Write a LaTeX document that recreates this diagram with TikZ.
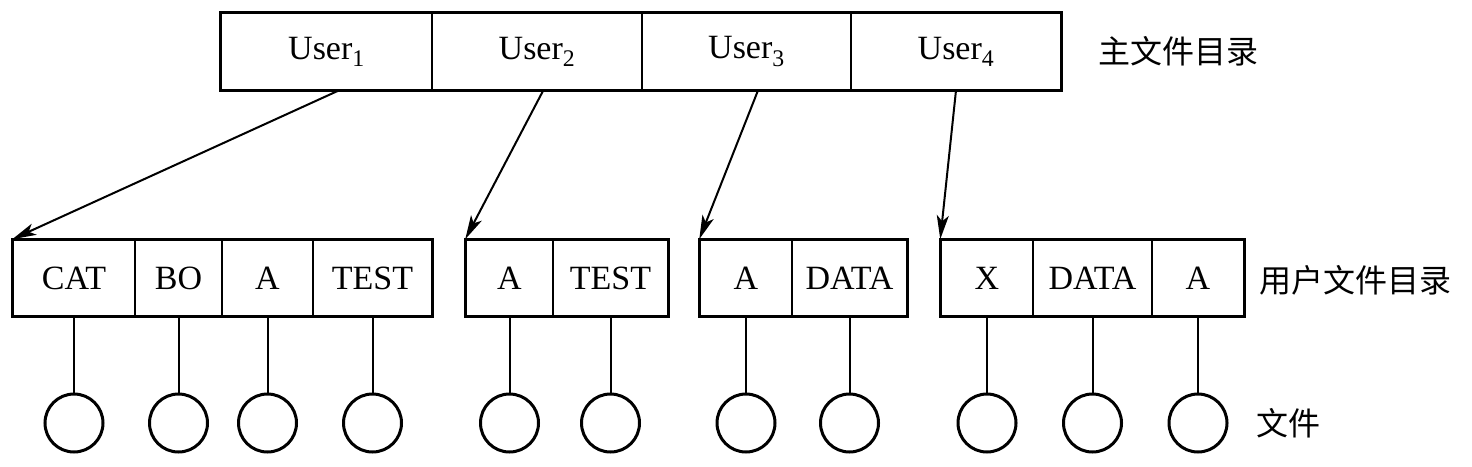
\documentclass[tikz,border=0pt]{standalone}
\usepackage{fontspec}
\setmainfont{Liberation Serif}
\newfontfamily\cjk{Noto Sans CJK SC}
\usetikzlibrary{arrows.meta,calc}
\begin{document}
\begin{tikzpicture}[x=1pt,y=-1pt,
  cell/.style={draw,line width=1.5pt,inner sep=0pt,minimum height=76pt,font=\fontsize{34}{40}\selectfont},
  outer/.style={line width=3pt},
  file/.style={draw,circle,line width=3pt,minimum size=58pt,inner sep=0pt},
  link/.style={line width=2pt},
  ptr/.style={line width=2pt,-{Stealth[length=24pt,width=12pt,inset=6pt]}},
  lbl/.style={font=\cjk\fontsize{32}{38}\selectfont,inner sep=0pt}]
\useasboundingbox (0,0) rectangle (1472,466);
% main directory
\node[cell,minimum width=211pt] (m1) at (326.5,51.5) {User\textsubscript{1}};
\node[cell,minimum width=210pt] (m2) at (537,51.5) {User\textsubscript{2}};
\node[cell,minimum width=209pt] (m3) at (746.5,51.5) {User\textsubscript{3}};
\node[cell,minimum width=210pt] (m4) at (956,51.5) {User\textsubscript{4}};
\draw[outer] (m1.north west) rectangle (m4.south east);
% user directories
\node[cell,minimum width=122pt] (a1) at (74,278) {CAT};
\node[cell,minimum width=87pt] (a2) at (178.5,278) {BO};
\node[cell,minimum width=91pt] (a3) at (267.5,278) {A};
\node[cell,minimum width=119pt] (a4) at (372.5,278) {TEST};
\draw[outer] (a1.north west) rectangle (a4.south east);
\node[cell,minimum width=87pt] (b1) at (509.5,278) {A};
\node[cell,minimum width=115pt] (b2) at (610.5,278) {TEST};
\draw[outer] (b1.north west) rectangle (b2.south east);
\node[cell,minimum width=92pt] (c1) at (746,278) {A};
\node[cell,minimum width=115pt] (c2) at (849.5,278) {DATA};
\draw[outer] (c1.north west) rectangle (c2.south east);
\node[cell,minimum width=92pt] (d1) at (987,278) {X};
\node[cell,minimum width=119pt] (d2) at (1092.5,278) {DATA};
\node[cell,minimum width=92pt] (d3) at (1198,278) {A};
\draw[outer] (d1.north west) rectangle (d3.south east);
% files
\foreach \n/\x in {a1/74,a2/178.5,a3/267.5,a4/372.5,b1/509.5,b2/610.5,c1/746,c2/849.5,d1/987,d2/1092.5,d3/1198}{
  \node[file] (f\n) at (\x,423) {};
  \draw[link] (\n.south) -- (f\n.north);
}
% pointers
\draw[ptr] ($(m1.south west)!0.56!(m1.south east)$) -- (a1.north west);
\draw[ptr] ($(m2.south west)!0.53!(m2.south east)$) -- (b1.north west);
\draw[ptr] ($(m3.south west)!0.555!(m3.south east)$) -- (c1.north west);
\draw[ptr] ($(m4.south west)!0.5!(m4.south east)$) -- (d1.north west);
% labels
\node[lbl] (l1) at (1178,51) {主文件目录};
\node[lbl] (l2) at (1355,280) {用户文件目录};
\node[lbl] (l3) at (1288,423) {文件};
\end{tikzpicture}
\end{document}
